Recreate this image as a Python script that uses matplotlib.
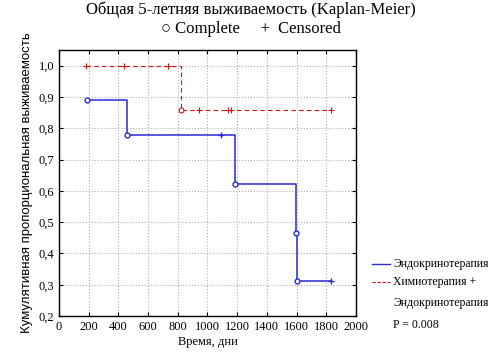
import matplotlib
matplotlib.use("Agg")
import matplotlib.pyplot as plt
from matplotlib.lines import Line2D
from matplotlib.ticker import FuncFormatter

# Kaplan-Meier steps
endo_t = [188, 458, 1091, 1187, 1596, 1603, 1832]
endo_s = [0.889, 0.778, 0.778, 0.622, 0.467, 0.311, 0.311]
endo_done_t = [188, 458, 1187, 1596, 1603]
endo_done_s = [0.889, 0.778, 0.622, 0.467, 0.311]
endo_cens_t = [1091, 1832]
endo_cens_s = [0.778, 0.311]

chemo_t = [182, 436, 732, 822, 945, 1136, 1158, 1832]
chemo_s = [1.0, 1.0, 1.0, 0.857, 0.857, 0.857, 0.857, 0.857]
chemo_done_t = [822]
chemo_done_s = [0.857]
chemo_cens_t = [182, 436, 732, 945, 1136, 1158, 1832]
chemo_cens_s = [1.0, 1.0, 1.0, 0.857, 0.857, 0.857, 0.857]

xticks = list(range(0, 2001, 200))
yticks = [0.2, 0.3, 0.4, 0.5, 0.6, 0.7, 0.8, 0.9, 1.0]

serif = "Liberation Serif"
blue = "#2a2ad8"
red = "#cc1111"

fig = plt.figure(figsize=(5.02, 3.52), dpi=100)
ax = fig.add_axes([0.1175, 0.102, 0.5915, 0.756])

ax.plot(endo_t, endo_s, drawstyle="steps-post", color=blue, lw=1.1)
ax.plot(endo_done_t, endo_done_s, "o", mfc="white", mec=blue, ms=3.5, mew=1)
ax.plot(endo_cens_t, endo_cens_s, "+", color=blue, ms=5, mew=1)

ax.plot(chemo_t, chemo_s, drawstyle="steps-post", color=red, lw=0.8, ls=(0, (4, 3)))
ax.plot(chemo_done_t, chemo_done_s, "o", mfc="white", mec=red, ms=3.5, mew=0.8)
ax.plot(chemo_cens_t, chemo_cens_s, "+", color=red, ms=5, mew=0.8)

ax.set_xlim(0, 2000)
ax.set_ylim(0.2, 1.05)
ax.set_xticks(xticks)
ax.set_yticks(yticks)
ax.yaxis.set_major_formatter(FuncFormatter(lambda v, p: ("%.1f" % v).replace(".", ",")))
ax.grid(True, color="#b0b0b0", ls=":", lw=0.8)
ax.tick_params(direction="in", top=True, right=True, length=3, labelsize=9)
for lab in ax.get_xticklabels() + ax.get_yticklabels():
    lab.set_family(serif)
for sp in ax.spines.values():
    sp.set_linewidth(1)

ax.set_xlabel("Время, дни", family=serif, fontsize=9, labelpad=2)
ax.set_ylabel("Кумулятивная пропорциональная выживаемость", family="Liberation Sans",
              fontsize=9.5, labelpad=4)

fig.text(0.5, 0.972, "Общая 5-летняя выживаемость (Kaplan-Meier)", ha="center", va="center",
         family=serif, fontsize=12)
fig.text(0.5, 0.918, "○ Complete     +  Censored", ha="center", va="center",
         family=[serif, "DejaVu Sans"], fontsize=12)

# legend drawn by hand, outside the axes on the right
fig.add_artist(Line2D([0.741, 0.777], [0.25, 0.25], transform=fig.transFigure,
                      color=blue, lw=1))
fig.add_artist(Line2D([0.741, 0.777], [0.199, 0.199], transform=fig.transFigure,
                      color=red, lw=0.8, ls=(0, (3, 1.5))))
fig.text(0.783, 0.25, "Эндокринотерапия", family=serif, fontsize=8.5, va="center")
fig.text(0.783, 0.199, "Химиотерапия +", family=serif, fontsize=8.5, va="center")
fig.text(0.783, 0.139, "Эндокринотерапия", family=serif, fontsize=8.5, va="center")
fig.text(0.783, 0.077, "P = 0.008", family=serif, fontsize=8.5, va="center")

fig.savefig("out.png", dpi=100)
